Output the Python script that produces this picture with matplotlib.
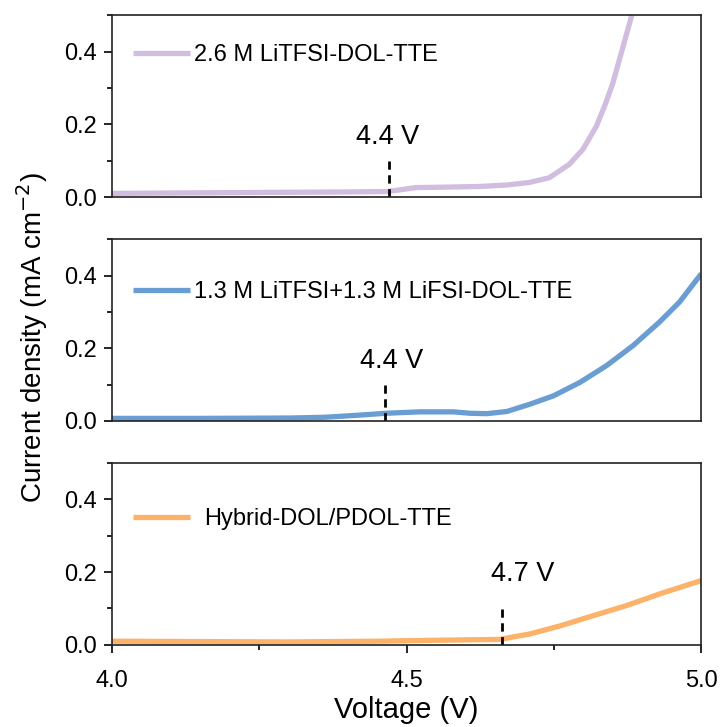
import numpy as np
import matplotlib
matplotlib.use("Agg")
import matplotlib.pyplot as plt
from matplotlib.ticker import MultipleLocator, NullLocator, FormatStrFormatter

plt.rcParams['font.family'] = ['Liberation Sans', 'DejaVu Sans']

# LSV curves, voltage (V) vs current density (mA cm-2)
v_tfsi = [4.00, 4.10, 4.20, 4.30, 4.40, 4.466, 4.49, 4.516, 4.56, 4.624, 4.67, 4.708,
          4.742, 4.776, 4.799, 4.822, 4.838, 4.850, 4.861, 4.872, 4.882]
j_tfsi = [0.010, 0.011, 0.012, 0.013, 0.014, 0.015, 0.020, 0.026, 0.027, 0.029, 0.033, 0.040,
          0.053, 0.090, 0.131, 0.195, 0.259, 0.314, 0.378, 0.442, 0.500]

v_dual = [4.00, 4.15, 4.30, 4.36, 4.42, 4.464, 4.522, 4.579, 4.608, 4.636, 4.670, 4.709,
          4.749, 4.794, 4.839, 4.884, 4.929, 4.963, 5.00]
j_dual = [0.007, 0.007, 0.008, 0.010, 0.016, 0.021, 0.025, 0.025, 0.021, 0.020, 0.026, 0.046,
          0.069, 0.106, 0.152, 0.207, 0.272, 0.327, 0.405]

v_hyb = [4.00, 4.15, 4.30, 4.45, 4.522, 4.658, 4.709, 4.760, 4.816, 4.873, 4.929, 5.00]
j_hyb = [0.010, 0.009, 0.008, 0.010, 0.012, 0.015, 0.030, 0.052, 0.080, 0.108, 0.140, 0.177]

labels = ['2.6 M LiTFSI-DOL-TTE', '1.3 M LiTFSI+1.3 M LiFSI-DOL-TTE', 'Hybrid-DOL/PDOL-TTE']
colors = ['#D1BDDF', '#6A9ED3', '#FCB268']
onset_v = [4.470, 4.464, 4.661]
onset_text = ['4.4 V', '4.4 V', '4.7 V']
text_x = [4.467, 4.475, 4.697]
text_y = [0.13, 0.128, 0.158]
legend_y = [0.78, 0.71, 0.69]

curves = [(v_tfsi, j_tfsi), (v_dual, j_dual), (v_hyb, j_hyb)]

fig = plt.figure(figsize=(7.23, 7.27), dpi=100)
bottoms = [0.729, 0.421, 0.113]
axes = [fig.add_axes([0.155, b, 0.815, 0.250]) for b in bottoms]

for i, ax in enumerate(axes):
    v, j = curves[i]
    ax.plot(v, j, color=colors[i], lw=3.8, solid_capstyle='butt', label=labels[i])
    ax.plot([onset_v[i], onset_v[i]], [0, 0.099], color='black', lw=2.0,
            linestyle=(0, (3, 2)))
    ax.text(text_x[i], text_y[i], onset_text[i], ha='center', va='bottom', fontsize=19.5)
    ax.set_xlim(4.0, 5.0)
    ax.set_ylim(0, 0.5)
    ax.yaxis.set_major_locator(MultipleLocator(0.2))
    ax.yaxis.set_minor_locator(MultipleLocator(0.1))
    ax.yaxis.set_major_formatter(FormatStrFormatter('%.1f'))
    ax.tick_params(axis='y', which='major', direction='out', length=6, width=1.2,
                   labelsize=17, pad=5)
    ax.tick_params(axis='y', which='minor', direction='out', length=3.5, width=1.2)
    for s in ax.spines.values():
        s.set_linewidth(1.2)
        s.set_color('#222222')
    ax.legend(loc='center left', bbox_to_anchor=(0.0, legend_y[i]), frameon=False,
              handlelength=2.4, handletextpad=0.15 if i < 2 else 0.6, fontsize=17)
    if i < 2:
        ax.xaxis.set_major_locator(NullLocator())
        ax.xaxis.set_minor_locator(NullLocator())
    else:
        ax.xaxis.set_major_locator(MultipleLocator(0.5))
        ax.xaxis.set_minor_locator(MultipleLocator(0.25))
        ax.xaxis.set_major_formatter(FormatStrFormatter('%.1f'))
        ax.tick_params(axis='x', which='major', direction='out', length=6, width=1.2,
                       labelsize=17, pad=12)
        ax.tick_params(axis='x', which='minor', direction='out', length=3.5, width=1.2)
        ax.set_xlabel('Voltage (V)', fontsize=21, labelpad=3)

fig.text(0.045, 0.535, 'Current density (mA cm$^{-2}$)', rotation=90, ha='center',
         va='center', fontsize=20)

fig.savefig('out.png', dpi=100)
